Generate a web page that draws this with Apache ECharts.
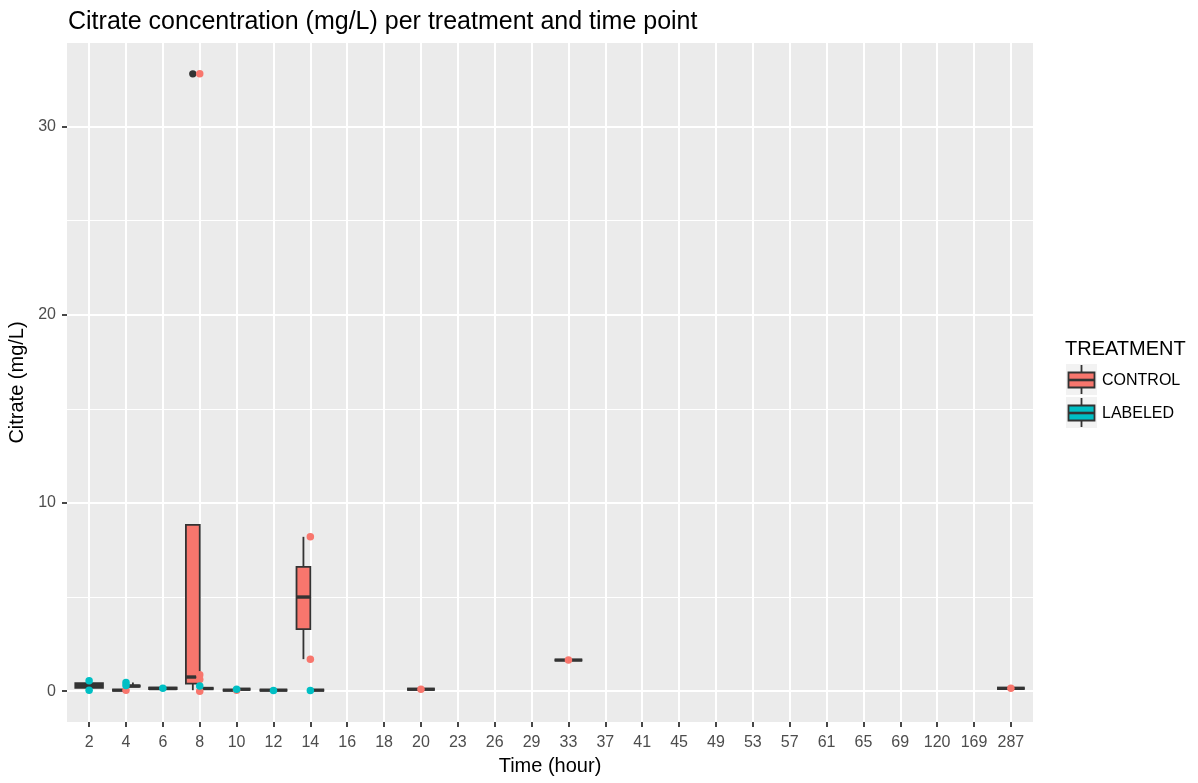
<!DOCTYPE html>
<html>
<head>
<meta charset="utf-8">
<script src="https://cdn.jsdelivr.net/npm/echarts@6/dist/echarts.min.js"></script>
<style>
html,body{margin:0;padding:0;background:#fff;}
#chart{width:1198px;height:783px;}
</style>
</head>
<body>
<div id="chart"></div>
<script>
// ---------------- data ----------------
const categories = ['2','4','6','8','10','12','14','16','18','20','23','26','29','33','37','41','45','49','53','57','61','65','69','120','169','287'];
const treatments = ['CONTROL', 'LABELED'];
const treatmentColors = ['#F8766D', '#00BFC4'];

// box statistics per time point: [min whisker, Q1, median, Q3, max whisker]
const controlBoxes = {
  '4':   [0.05, 0.05, 0.05, 0.05, 0.05],
  '8':   [0.05, 0.40, 0.75, 8.83, 8.83],
  '10':  [0.05, 0.05, 0.05, 0.05, 0.05],
  '14':  [1.70, 3.30, 5.00, 6.60, 8.20],
  '20':  [0.10, 0.10, 0.10, 0.10, 0.10],
  '33':  [1.65, 1.65, 1.65, 1.65, 1.65],
  '287': [0.15, 0.15, 0.15, 0.15, 0.15]
};
const labeledBoxes = {
  '2':  [0.05, 0.18, 0.30, 0.43, 0.55],
  '4':  [0.22, 0.24, 0.27, 0.30, 0.46],
  '6':  [0.10, 0.11, 0.14, 0.19, 0.20],
  '8':  [0.14, 0.14, 0.14, 0.14, 0.14],
  '10': [0.10, 0.10, 0.10, 0.10, 0.10],
  '12': [0.05, 0.05, 0.05, 0.05, 0.05],
  '14': [0.05, 0.05, 0.05, 0.05, 0.05]
};
// boxplot outliers
const controlOutliers = { '8': [32.8] };
const labeledOutliers = {};

// observed points
const controlPoints = {
  '4': [0.05],
  '8': [32.8, 0.87, 0.62, 0.0],
  '10': [0.05],
  '14': [8.2, 1.7],
  '20': [0.1],
  '33': [1.65],
  '287': [0.15]
};
const labeledPoints = {
  '2': [0.55, 0.05],
  '4': [0.46, 0.30],
  '6': [0.15],
  '8': [0.27],
  '10': [0.1],
  '12': [0.03],
  '14': [0.03]
};

const yTicks = [0, 10, 20, 30];
const yMinorTicks = [5, 15, 25];

// ---------------- build ----------------
const boxSets = [controlBoxes, labeledBoxes];
const outlierSets = [controlOutliers, labeledOutliers];
const pointSets = [controlPoints, labeledPoints];

function slotInfo(cat, tIdx) {
  const present = boxSets.map((s, i) => (s[cat] ? i : -1)).filter(i => i >= 0);
  return [present.indexOf(tIdx), present.length];
}

function boxData(tIdx) {
  const out = [];
  categories.forEach((c, xi) => {
    const b = boxSets[tIdx][c];
    if (!b) return;
    const [slot, n] = slotInfo(c, tIdx);
    out.push([xi].concat(b, [slot, n]));
  });
  return out;
}
function outlierData(tIdx) {
  const out = [];
  categories.forEach((c, xi) => {
    const o = outlierSets[tIdx][c];
    if (!o) return;
    const [slot, n] = slotInfo(c, tIdx);
    o.forEach(v => out.push([xi, v, slot, n]));
  });
  return out;
}
function pointData(tIdx) {
  const out = [];
  categories.forEach((c, xi) => {
    const p = pointSets[tIdx][c];
    if (!p) return;
    p.forEach(v => out.push([xi, v]));
  });
  return out;
}

const BOX_W = 0.75;
const LINE = '#333333';

function renderBox(params, api) {
  const xi = api.value(0);
  const slot = api.value(6), n = api.value(7);
  const unit = api.size([1, 0])[0];
  const totalW = unit * BOX_W;
  const w = totalW / n;
  const cx = api.coord([xi, 0])[0] - totalW / 2 + (slot + 0.5) * w;
  const y = v => api.coord([xi, v])[1];
  const mn = y(api.value(1)), q1 = y(api.value(2)), md = y(api.value(3)), q3 = y(api.value(4)), mx = y(api.value(5));
  const fill = api.visual('color');
  return {
    type: 'group',
    children: [
      { type: 'line', shape: { x1: cx, y1: mx, x2: cx, y2: q3 }, style: { stroke: LINE, lineWidth: 1.8 } },
      { type: 'line', shape: { x1: cx, y1: q1, x2: cx, y2: mn }, style: { stroke: LINE, lineWidth: 1.8 } },
      { type: 'rect', shape: { x: cx - w / 2, y: q3, width: w, height: q1 - q3 }, style: { fill: fill, stroke: LINE, lineWidth: 1.8 } },
      { type: 'line', shape: { x1: cx - w / 2, y1: md, x2: cx + w / 2, y2: md }, style: { stroke: LINE, lineWidth: 3.4 } }
    ]
  };
}
function renderOutlier(params, api) {
  const xi = api.value(0);
  const slot = api.value(2), n = api.value(3);
  const unit = api.size([1, 0])[0];
  const totalW = unit * BOX_W;
  const w = totalW / n;
  const cx = api.coord([xi, 0])[0] - totalW / 2 + (slot + 0.5) * w;
  const cy = api.coord([xi, api.value(1)])[1];
  return { type: 'circle', shape: { cx: cx, cy: cy, r: 3.7 }, style: { fill: LINE } };
}

const FONT = '"Liberation Sans", Arial, sans-serif';
const xIdx = categories.map((c, i) => i);

const series = [];
treatments.forEach((t, i) => {
  series.push({
    type: 'custom', name: t, renderItem: renderBox, data: boxData(i),
    itemStyle: { color: treatmentColors[i] },
    encode: { x: 0, y: [1, 2, 3, 4, 5] }, z: 3, silent: true
  });
  series.push({
    type: 'custom', name: t + ' outliers', renderItem: renderOutlier, data: outlierData(i),
    encode: { x: 0, y: 1 }, z: 4, silent: true
  });
});
treatments.forEach((t, i) => {
  series.push({
    type: 'scatter', name: t, data: pointData(i), symbolSize: 7.5,
    itemStyle: { color: treatmentColors[i], opacity: 1 }, z: 5, silent: true
  });
});

// legend graphic
const legendEls = [
  { type: 'text', left: 1065, top: 339, style: { text: 'TREATMENT', font: '20px ' + FONT, fill: '#000' } }
];
treatments.forEach((t, i) => {
  const top = 364 + i * 33;
  legendEls.push({ type: 'rect', shape: { x: 1066, y: top, width: 31, height: 31 }, style: { fill: '#F2F2F2' } });
  legendEls.push({ type: 'line', shape: { x1: 1081.5, y1: top + 1, x2: 1081.5, y2: top + 30 }, style: { stroke: LINE, lineWidth: 1.8 } });
  legendEls.push({ type: 'rect', shape: { x: 1068.5, y: top + 8.5, width: 26, height: 15 }, style: { fill: treatmentColors[i], stroke: LINE, lineWidth: 1.8 } });
  legendEls.push({ type: 'line', shape: { x1: 1068.5, y1: top + 16, x2: 1094.5, y2: top + 16 }, style: { stroke: LINE, lineWidth: 2.6 } });
  legendEls.push({ type: 'text', left: 1102, top: top + 9, style: { text: t, font: '16px ' + FONT, fill: '#000' } });
});

const option = {
  animation: false,
  backgroundColor: '#ffffff',
  title: {
    text: 'Citrate concentration (mg/L) per treatment and time point',
    left: 63, top: 5,
    textStyle: { fontFamily: FONT, fontSize: 25, fontWeight: 'normal', color: '#000' }
  },
  grid: { left: 67, right: 165, top: 43, bottom: 61, show: true, backgroundColor: '#EBEBEB', borderWidth: 0, outerBoundsMode: 'none', containLabel: false },
  xAxis: {
    type: 'value', min: -0.6, max: 25.6,
    name: 'Time (hour)', nameLocation: 'middle', nameGap: 34,
    nameTextStyle: { fontFamily: FONT, fontSize: 20, color: '#000' },
    axisLine: { show: false, onZero: false },
    axisTick: { show: true, length: 5, customValues: xIdx, lineStyle: { color: LINE, width: 1.8 } },
    axisLabel: { customValues: xIdx, formatter: v => categories[Math.round(v)], fontFamily: FONT, fontSize: 16, color: '#4D4D4D', margin: 13 },
    splitLine: { show: true, lineStyle: { color: '#ffffff', width: 2 } }
  },
  yAxis: [{
    type: 'value', min: -1.64, max: 34.44,
    name: 'Citrate (mg/L)', nameLocation: 'middle', nameGap: 39, nameRotate: 90,
    nameTextStyle: { fontFamily: FONT, fontSize: 20, color: '#000' },
    axisLine: { show: false, onZero: false },
    axisTick: { show: true, length: 5, customValues: yTicks, lineStyle: { color: LINE, width: 1.8 } },
    axisLabel: { customValues: yTicks, fontFamily: FONT, fontSize: 16, color: '#4D4D4D', margin: 11 },
    splitLine: { show: true, lineStyle: { color: '#ffffff', width: 2 } }
  }, {
    type: 'value', min: -1.64, max: 34.44, position: 'left',
    axisLine: { show: false, onZero: false },
    axisTick: { show: false, customValues: yMinorTicks },
    axisLabel: { show: false, customValues: yMinorTicks },
    splitLine: { show: true, lineStyle: { color: '#ffffff', width: 1 } }
  }],
  series: series,
  graphic: legendEls
};

const chart = echarts.init(document.getElementById('chart'), null, { renderer: 'canvas' });
chart.setOption(option);
</script>
</body>
</html>
